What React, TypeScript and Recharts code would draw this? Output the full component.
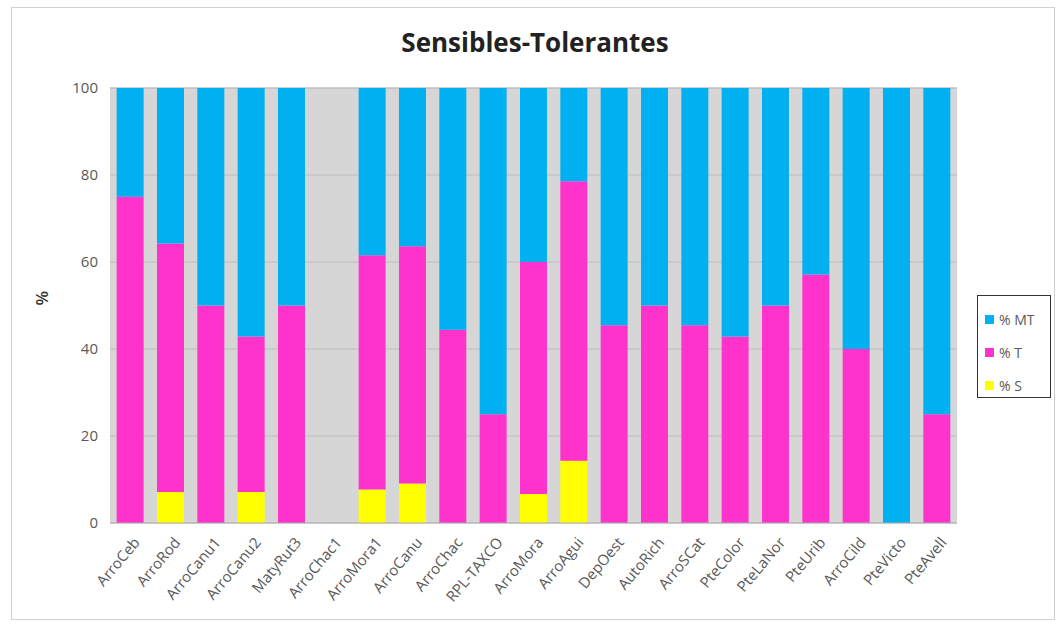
import React from 'react';
import { Bar, BarChart, CartesianGrid, XAxis, YAxis, Label } from 'recharts';

const categories = [
  'ArroCeb', 'ArroRod', 'ArroCanu1', 'ArroCanu2', 'MatyRut3', 'ArroChac1', 'ArroMora1',
  'ArroCanu', 'ArroChac', 'RPL-TAXCO', 'ArroMora', 'ArroAgui', 'DepOest', 'AutoRich',
  'ArroSCat', 'PteColor', 'PteLaNor', 'PteUrib', 'ArroCild', 'PteVicto', 'PteAvell'
];
const sValues = [0, 7.14, 0, 7.14, 0, 0, 7.69, 9.09, 0, 0, 6.67, 14.29, 0, 0, 0, 0, 0, 0, 0, 0, 0];
const tValues = [75, 57.14, 50, 35.71, 50, 0, 53.85, 54.55, 44.44, 25, 53.33, 64.29, 45.45, 50, 45.45, 42.86, 50, 57.14, 40, 0, 25];
const mtValues = [25, 35.71, 50, 57.14, 50, 0, 38.46, 36.36, 55.56, 75, 40, 21.43, 54.55, 50, 54.55, 57.14, 50, 42.86, 60, 100, 75];
const yTicks = [0, 20, 40, 60, 80, 100];

const series = [
  { key: 'mt', name: '% MT', color: '#00b0f0' },
  { key: 't', name: '% T', color: '#ff33cc' },
  { key: 's', name: '% S', color: '#ffff00' }
];

const data = categories.map((name, i) => ({
  name,
  s: sValues[i],
  t: tValues[i],
  mt: mtValues[i]
}));

const font = '"Open Sans", "Liberation Sans", sans-serif';

const XTick = (props: any) => {
  const { x, y, payload } = props;
  return (
    <text
      x={x + 6}
      y={y + 8}
      transform={`rotate(-50, ${x + 6}, ${y + 8})`}
      textAnchor='end'
      dominantBaseline='central'
      fontSize={15}
      fontFamily={font}
      fill='#595959'
    >
      {payload.value}
    </text>
  );
};

export default function App() {
  return (
    <div style={{ position: 'absolute', left: 0, top: 0, width: 1058, height: 624, background: '#fff' }}>
      <div
        style={{
          position: 'absolute', left: 11, top: 7, width: 1044, height: 613,
          border: '1px solid #d0d0d0', boxSizing: 'border-box'
        }}
      />
      <div
        style={{
          position: 'absolute', left: 0, top: 24, width: 1070, textAlign: 'center',
          fontFamily: font, fontWeight: 700, fontSize: 26, color: '#222'
        }}
      >
        Sensibles-Tolerantes
      </div>
      <div style={{ position: 'absolute', left: 0, top: 0 }}>
        <BarChart
          width={1058}
          height={624}
          data={data}
          margin={{ top: 88, right: 101, bottom: 0, left: 40 }}
          barCategoryGap='16.5%'
        >
          <CartesianGrid vertical={false} fill='#d6d6d6' stroke='#bdbdbd' />
          <XAxis
            dataKey='name'
            interval={0}
            height={101}
            tick={<XTick />}
            tickLine={false}
            axisLine={{ stroke: '#b0b0b0' }}
          />
          <YAxis
            width={70}
            domain={[0, 100]}
            ticks={yTicks}
            tickLine={false}
            axisLine={false}
            tickMargin={6}
            tick={{ fontSize: 15, fontFamily: font, fill: '#595959' }}
          >
            <Label value='%' angle={-90} position='insideLeft' offset={2} style={{ fontSize: 17, fontFamily: font, fill: '#333', fontWeight: 600 }} />
          </YAxis>
          <Bar dataKey='s' name='% S' stackId='a' fill='#ffff00' isAnimationActive={false} />
          <Bar dataKey='t' name='% T' stackId='a' fill='#ff33cc' isAnimationActive={false} />
          <Bar dataKey='mt' name='% MT' stackId='a' fill='#00b0f0' isAnimationActive={false} />
        </BarChart>
      </div>
      <div
        style={{
          position: 'absolute', left: 977, top: 295, width: 74, height: 103,
          border: '1px solid #333', boxSizing: 'border-box', background: '#fff',
          fontFamily: font, fontSize: 14, color: '#595959', paddingTop: 7
        }}
      >
        {series.map((s) => (
          <div key={s.key} style={{ display: 'flex', alignItems: 'center', height: 33, paddingLeft: 7 }}>
            <span style={{ display: 'inline-block', width: 9, height: 9, background: s.color, marginRight: 5 }} />
            {s.name}
          </div>
        ))}
      </div>
    </div>
  );
}
